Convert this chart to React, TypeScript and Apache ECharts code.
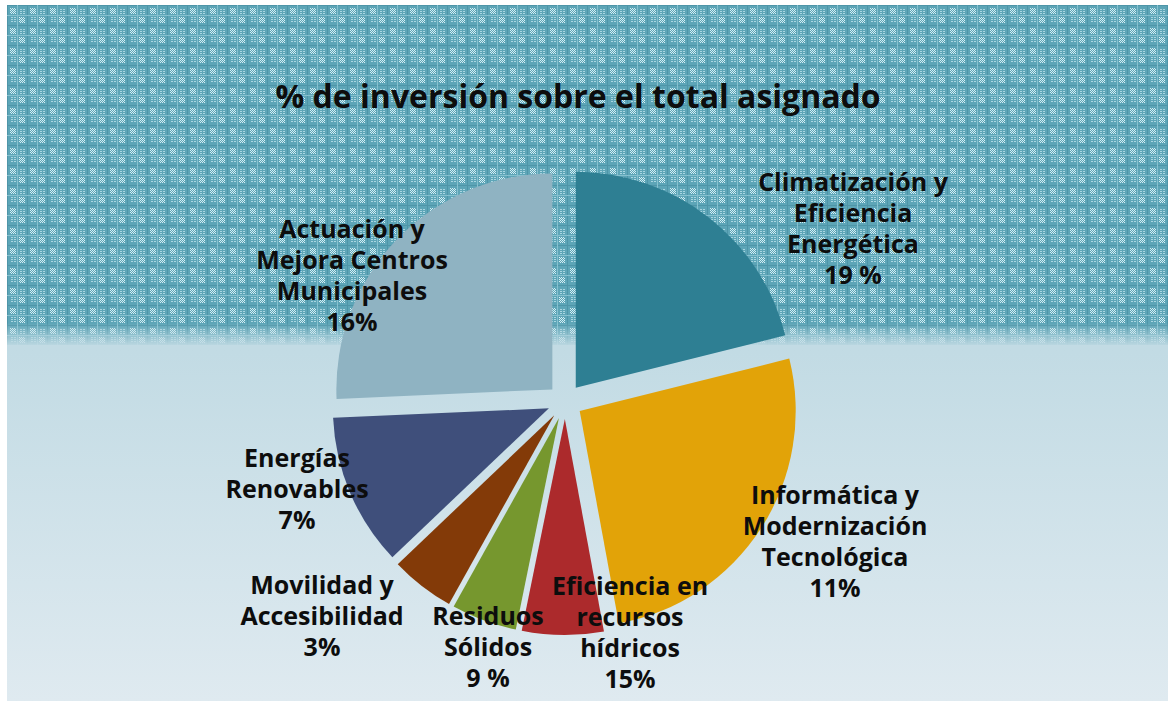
import React, { useEffect, useRef } from "react";
import * as echarts from "echarts";

// ---- Data ----
const TITLE = "% de inversión sobre el total asignado";
const categories = [
  "Climatización y\nEficiencia\nEnergética",
  "Informática y\nModernización\nTecnológica",
  "Eficiencia en\nrecursos\nhídricos",
  "Residuos\nSólidos",
  "Movilidad y\nAccesibilidad",
  "Energías\nRenovables",
  "Actuación y\nMejora Centros\nMunicipales",
];
// slice sizes (share of the circle, %)
const sliceValues = [21.1, 26.0, 6.1, 4.9, 4.8, 11.4, 25.7];
// percentage labels printed in the chart
const percentLabels = ["19 %", "11%", "15%", "9 %", "3%", "7%", "16%"];
const colors = ["#2e7f93", "#e2a308", "#ac2a2c", "#76972e", "#833a08", "#3f4f7b", "#8fb3c2"];

// layout only: label block centres (page px)
const OFFSET_X = 7;
const OFFSET_Y = 5;
const labelCentres: [number, number][] = [
  [853, 227],
  [835, 540],
  [630, 631],
  [488, 646],
  [322, 615],
  [297, 488],
  [352, 274],
];

function makeTile(): HTMLCanvasElement {
  const c = document.createElement("canvas");
  c.width = 20;
  c.height = 20;
  const ctx = c.getContext("2d")!;
  ctx.fillStyle = "#5da5b7";
  ctx.fillRect(0, 0, 20, 20);
  for (let y = 0; y < 20; y++) {
    for (let x = 0; x < 20; x++) {
      const a = x >= 3 && x < 9 && y >= 3 && y < 9;
      const b = x >= 12 && x < 18 && y >= 12 && y < 18;
      const c2 = x >= 12 && x < 18 && y >= 3 && y < 9;
      const d = x >= 3 && x < 9 && y >= 12 && y < 18;
      let col = "";
      if ((a || b) && (x + y) % 2 === 0) col = "#d6eff5";
      else if ((c2 || d) && y % 2 === 0 && x % 3 !== 0) col = "#a9d6e1";
      else if (x === 10 || y === 10) col = "#86c1cf";
      else if (x === 0 || y === 0) col = "#4e95a8";
      if (col) {
        ctx.fillStyle = col;
        ctx.fillRect(x, y, 1, 1);
      }
    }
  }
  return c;
}

const LABEL_FONT = "bold 25px 'Open Sans', sans-serif";

export default function App() {
  const ref = useRef<HTMLDivElement>(null);

  useEffect(() => {
    if (!ref.current) return;
    const chart = echarts.init(ref.current, null, { renderer: "svg" });
    const W = 1161;
    const tile = makeTile();

    const data = categories.map((name, i) => ({
      name,
      value: sliceValues[i],
      selected: true,
      itemStyle: { color: colors[i] },
    }));

    const labelTexts = categories.map((name, i) => ({
      type: "text",
      z: 50,
      silent: true,
      x: labelCentres[i][0] - OFFSET_X,
      y: labelCentres[i][1] - OFFSET_Y,
      style: {
        text: `${name}\n${percentLabels[i]}`,
        font: LABEL_FONT,
        lineHeight: 31,
        fill: "#0d0d0d",
        align: "center",
        verticalAlign: "middle",
        textAlign: "center",
        textVerticalAlign: "middle",
      },
    }));

    chart.setOption({
      animation: false,
      backgroundColor: {
        type: "linear",
        x: 0,
        y: 0,
        x2: 0,
        y2: 1,
        colorStops: [
          { offset: 0, color: "#bcd7e1" },
          { offset: 0.5, color: "#c2dbe4" },
          { offset: 1, color: "#dfeaf0" },
        ],
      },
      graphic: [
        {
          type: "rect",
          z: -10,
          silent: true,
          shape: { x: 0, y: 0, width: W, height: 340 },
          style: {
            fill: { image: tile, repeat: "repeat", imageWidth: 20, imageHeight: 20 },
          },
        },
        {
          type: "rect",
          z: -9,
          silent: true,
          shape: { x: 0, y: 318, width: W, height: 24 },
          style: {
            fill: {
              type: "linear",
              x: 0,
              y: 0,
              x2: 0,
              y2: 1,
              colorStops: [
                { offset: 0, color: "rgba(194,219,228,0)" },
                { offset: 1, color: "rgba(194,219,228,1)" },
              ],
            },
          },
        },
        ...labelTexts,
      ],
      title: {
        text: TITLE,
        left: 573 - OFFSET_X,
        top: 74 - OFFSET_Y,
        textAlign: "center",
        textStyle: {
          fontFamily: "'Open Sans', sans-serif",
          fontWeight: "bold",
          fontSize: 32,
          color: "#0d0d0d",
        },
      },
      series: [
        {
          type: "pie",
          center: [565 - OFFSET_X, 401.5 - OFFSET_Y],
          radius: [0, 216],
          startAngle: 90,
          clockwise: true,
          selectedMode: "multiple",
          selectedOffset: 17.5,
          avoidLabelOverlap: false,
          emphasis: { disabled: true, scale: false },
          label: { show: false },
          labelLine: { show: false },
          data,
        },
      ],
    });

    return () => chart.dispose();
  }, []);

  return (
    <div
      ref={ref}
      style={{ position: "absolute", left: OFFSET_X, top: OFFSET_Y, width: 1161, height: 696 }}
    />
  );
}
